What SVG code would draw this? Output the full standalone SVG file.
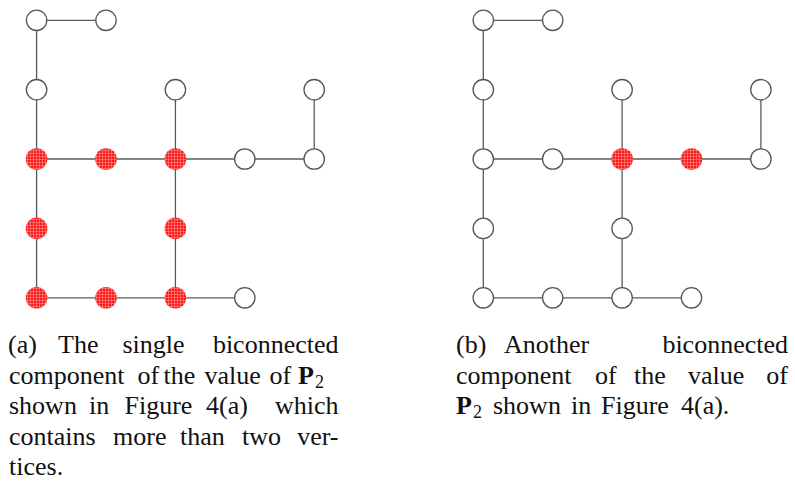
<svg xmlns="http://www.w3.org/2000/svg" width="795" height="486" viewBox="0 0 795 486">
<style>
.e{stroke:#5a5a5a;stroke-width:1.3;fill:none}
.n{fill:#fff;stroke:#555;stroke-width:1.3}
.r{fill:url(#redgrid);stroke:none}
.t{font-family:"Liberation Serif","DejaVu Serif",serif;font-size:26px;fill:#111}
.b{font-weight:bold}
</style>
<defs>
<pattern id="redgrid" width="3" height="3" patternUnits="userSpaceOnUse">
<rect width="3" height="3" fill="#ff1a1a"/>
<path d="M0 0.5H3M0.5 0V3" stroke="#ff8080" stroke-width="0.7"/>
</pattern>
</defs>
<rect width="795" height="486" fill="#fff"/>

<g id="connectors-a">
<line class="e" x1="36.6" y1="20.3" x2="106" y2="20.3"/>
<line class="e" x1="36.6" y1="20.3" x2="36.6" y2="297.8"/>
<line class="e" x1="175.4" y1="89.7" x2="175.4" y2="297.8"/>
<line class="e" x1="314.2" y1="89.7" x2="314.2" y2="159"/>
<line class="e" x1="36.6" y1="159" x2="314.2" y2="159"/>
<line class="e" x1="36.6" y1="297.8" x2="244.8" y2="297.8"/>
</g>
<g id="connectors-b">
<line class="e" x1="483.3" y1="20.3" x2="552.7" y2="20.3"/>
<line class="e" x1="483.3" y1="20.3" x2="483.3" y2="297.8"/>
<line class="e" x1="622.1" y1="89.7" x2="622.1" y2="297.8"/>
<line class="e" x1="760.9" y1="89.7" x2="760.9" y2="159"/>
<line class="e" x1="483.3" y1="159" x2="760.9" y2="159"/>
<line class="e" x1="483.3" y1="297.8" x2="691.5" y2="297.8"/>
</g>

<g id="nodes-a">
<g id="a00"><circle class="n" cx="36.6" cy="20.3" r="10.2"/></g>
<g id="a10"><circle class="n" cx="106" cy="20.3" r="10.2"/></g>
<g id="a01"><circle class="n" cx="36.6" cy="89.7" r="10.2"/></g>
<g id="a21"><circle class="n" cx="175.4" cy="89.7" r="10.2"/></g>
<g id="a41"><circle class="n" cx="314.2" cy="89.7" r="10.2"/></g>
<g id="a02"><circle class="r" cx="36.6" cy="159" r="10.8"/></g>
<g id="a12"><circle class="r" cx="106" cy="159" r="10.8"/></g>
<g id="a22"><circle class="r" cx="175.4" cy="159" r="10.8"/></g>
<g id="a32"><circle class="n" cx="244.8" cy="159" r="10.2"/></g>
<g id="a42"><circle class="n" cx="314.2" cy="159" r="10.2"/></g>
<g id="a03"><circle class="r" cx="36.6" cy="228.4" r="10.8"/></g>
<g id="a23"><circle class="r" cx="175.4" cy="228.4" r="10.8"/></g>
<g id="a04"><circle class="r" cx="36.6" cy="297.8" r="10.8"/></g>
<g id="a14"><circle class="r" cx="106" cy="297.8" r="10.8"/></g>
<g id="a24"><circle class="r" cx="175.4" cy="297.8" r="10.8"/></g>
<g id="a34"><circle class="n" cx="244.8" cy="297.8" r="10.2"/></g>
</g>

<g id="nodes-b">
<g id="b00"><circle class="n" cx="483.3" cy="20.3" r="10.2"/></g>
<g id="b10"><circle class="n" cx="552.7" cy="20.3" r="10.2"/></g>
<g id="b01"><circle class="n" cx="483.3" cy="89.7" r="10.2"/></g>
<g id="b21"><circle class="n" cx="622.1" cy="89.7" r="10.2"/></g>
<g id="b41"><circle class="n" cx="760.9" cy="89.7" r="10.2"/></g>
<g id="b02"><circle class="n" cx="483.3" cy="159" r="10.2"/></g>
<g id="b12"><circle class="n" cx="552.7" cy="159" r="10.2"/></g>
<g id="b22"><circle class="r" cx="622.1" cy="159" r="10.8"/></g>
<g id="b32"><circle class="r" cx="691.5" cy="159" r="10.8"/></g>
<g id="b42"><circle class="n" cx="760.9" cy="159" r="10.2"/></g>
<g id="b03"><circle class="n" cx="483.3" cy="228.4" r="10.2"/></g>
<g id="b23"><circle class="n" cx="622.1" cy="228.4" r="10.2"/></g>
<g id="b04"><circle class="n" cx="483.3" cy="297.8" r="10.2"/></g>
<g id="b14"><circle class="n" cx="552.7" cy="297.8" r="10.2"/></g>
<g id="b24"><circle class="n" cx="622.1" cy="297.8" r="10.2"/></g>
<g id="b34"><circle class="n" cx="691.5" cy="297.8" r="10.2"/></g>
</g>

<g id="caption-a" class="t" font-family="Liberation Serif, serif">
<text x="8" y="353">(a)</text>
<text x="58" y="353">The</text>
<text x="122.5" y="353">single</text>
<text x="338.5" y="353" text-anchor="end">biconnected</text>

<text x="9" y="383.5">component</text>
<text x="137.5" y="383.5">of</text>
<text x="163.5" y="383.5">the</text>
<text x="204.5" y="383.5">value</text>
<text x="269.5" y="383.5">of</text>
<text x="298" y="383.5"><tspan class="b">P</tspan><tspan font-size="18" dx="1" dy="4">2</tspan></text>

<text x="9" y="414">shown</text>
<text x="89" y="414">in</text>
<text x="124.5" y="414">Figure</text>
<text x="206" y="414">4(a)</text>
<text x="338.5" y="414" text-anchor="end">which</text>

<text x="9" y="444.5">contains</text>
<text x="113" y="444.5">more</text>
<text x="180" y="444.5">than</text>
<text x="242" y="444.5">two</text>
<text x="338.5" y="444.5" text-anchor="end">ver-</text>

<text x="9" y="475">tices.</text>
</g>

<g id="caption-b" class="t" font-family="Liberation Serif, serif">
<text x="456" y="353">(b)</text>
<text x="504" y="353">Another</text>
<text x="788" y="353" text-anchor="end">biconnected</text>

<text x="456" y="383.5">component</text>
<text x="595" y="383.5">of</text>
<text x="634" y="383.5">the</text>
<text x="688" y="383.5">value</text>
<text x="788" y="383.5" text-anchor="end">of</text>

<text x="456" y="414"><tspan class="b">P</tspan><tspan font-size="18" dx="1" dy="4">2</tspan></text>
<text x="493" y="414">shown</text>
<text x="571" y="414">in</text>
<text x="601" y="414">Figure</text>
<text x="681" y="414">4(a).</text>
</g>
</svg>
